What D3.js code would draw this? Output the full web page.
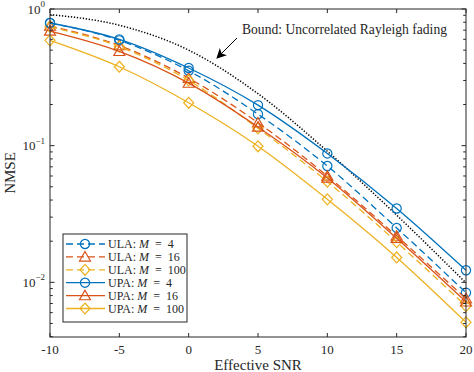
<!DOCTYPE html>
<html>
<head>
<meta charset="utf-8">
<script src="https://cdnjs.cloudflare.com/ajax/libs/d3/7.8.5/d3.min.js"></script>
<style>
  body { margin: 0; background: #fff; }
  text { font-family: "Liberation Serif", "DejaVu Serif", serif; fill: #262626; }
</style>
</head>
<body>
<svg width="474" height="372"></svg>
<script>
// values
var snr = [-10, -5, 0, 5, 10, 15, 20];
var bound  = [0.91, 0.76, 0.50, 0.24, 0.091, 0.031, 0.0099];
var ula4   = [0.79, 0.59, 0.353, 0.170, 0.071, 0.025, 0.0084];
var ula16  = [0.75, 0.54, 0.312, 0.147, 0.060, 0.0218, 0.0076];
var ula100 = [0.74, 0.53, 0.300, 0.134, 0.0545, 0.0197, 0.0067];
var upa4   = [0.79, 0.60, 0.370, 0.198, 0.0877, 0.0347, 0.01225];
var upa16  = [0.69, 0.49, 0.287, 0.137, 0.058, 0.021, 0.0072];
var upa100 = [0.59, 0.378, 0.206, 0.099, 0.0405, 0.0152, 0.0051];
var xTicks = [-10, -5, 0, 5, 10, 15, 20];
var yTicks = [1, 0.1, 0.01];
var yExp = ["0", "\u22121", "\u22122"];

var blue = "#0072BD", red = "#D95319", yellow = "#EDB120";
var series = [
  {name: "ULA", m: "4",   vals: ula4,   color: blue,   dash: "7,4", marker: "circle"},
  {name: "ULA", m: "16",  vals: ula16,  color: red,    dash: "7,4", marker: "triangle"},
  {name: "ULA", m: "100", vals: ula100, color: yellow, dash: "7,4", marker: "diamond"},
  {name: "UPA", m: "4",   vals: upa4,   color: blue,   dash: null,  marker: "circle"},
  {name: "UPA", m: "16",  vals: upa16,  color: red,    dash: null,  marker: "triangle"},
  {name: "UPA", m: "100", vals: upa100, color: yellow, dash: null,  marker: "diamond"}
];

var svg = d3.select("svg");
var L = 50, R = 466, T = 9, B = 337;

var x = d3.scaleLinear().domain([-10, 20]).range([L, R]);
var y = d3.scaleLog().domain([Math.pow(10, -2.4), 1]).range([B, T]);

var line = d3.line()
    .x(function(d) { return x(d[0]); })
    .y(function(d) { return y(d[1]); })
    .curve(d3.curveMonotoneX);

function pts(vals) { return snr.map(function(s, i) { return [s, vals[i]]; }); }

var symbols = {
  circle: d3.symbol().type(d3.symbolCircle).size(66),
  triangle: d3.symbol().type(d3.symbolTriangle).size(52),
  diamond: d3.symbol().type(d3.symbolDiamond).size(48)
};
function markTf(kind, px, py) {
  if (kind === "triangle") return "translate(" + px + "," + (py + 1) + ")";
  if (kind === "diamond") return "translate(" + px + "," + py + ") scale(1.35,0.85)";
  return "translate(" + px + "," + py + ")";
}

// bound curve
svg.append("path")
    .attr("d", line(pts(bound)))
    .attr("fill", "none")
    .attr("stroke", "#000")
    .attr("stroke-width", 1.5)
    .attr("stroke-dasharray", "1.3,1.7");

series.forEach(function(s) {
  svg.append("path")
      .attr("d", line(pts(s.vals)))
      .attr("fill", "none")
      .attr("stroke", s.color)
      .attr("stroke-width", 1.3)
      .attr("stroke-dasharray", s.dash);
  svg.selectAll(null).data(pts(s.vals)).enter().append("path")
      .attr("d", symbols[s.marker])
      .attr("transform", function(d) { return markTf(s.marker, x(d[0]), y(d[1])); })
      .attr("fill", "none")
      .attr("stroke", s.color)
      .attr("stroke-width", 1.2)
      .attr("vector-effect", "non-scaling-stroke");
});

// frame
var ax = svg.append("g").attr("stroke", "#262626").attr("stroke-width", 1).attr("fill", "none");
ax.append("rect").attr("x", L).attr("y", T).attr("width", R - L).attr("height", B - T);

xTicks.forEach(function(t) {
  ax.append("line").attr("x1", x(t)).attr("x2", x(t)).attr("y1", B).attr("y2", B - 4);
  ax.append("line").attr("x1", x(t)).attr("x2", x(t)).attr("y1", T).attr("y2", T + 4);
  svg.append("text").attr("x", x(t)).attr("y", B + 17)
      .attr("text-anchor", "middle").attr("font-size", 13).text(t);
});

y.ticks().forEach(function(t) {
  var major = Math.abs(Math.log10(t) - Math.round(Math.log10(t))) < 1e-9;
  var len = major ? 4.5 : 2.8;
  ax.append("line").attr("x1", L).attr("x2", L + len).attr("y1", y(t)).attr("y2", y(t));
  ax.append("line").attr("x1", R).attr("x2", R - len).attr("y1", y(t)).attr("y2", y(t));
});

yTicks.forEach(function(t, i) {
  var tx = svg.append("text").attr("x", 45).attr("y", y(t) + 4.5)
      .attr("text-anchor", "end").attr("font-size", 13);
  tx.append("tspan").text("10");
  tx.append("tspan").attr("dy", -6.5).attr("font-size", 9).text(yExp[i]);
});

svg.append("text").attr("x", (L + R) / 2).attr("y", 370)
    .attr("text-anchor", "middle").attr("font-size", 15).text("Effective SNR");
svg.append("text").attr("transform", "translate(15," + ((T + B) / 2) + ") rotate(-90)")
    .attr("text-anchor", "middle").attr("font-size", 15).text("NMSE");

// annotation
svg.append("defs").append("marker")
    .attr("id", "ah").attr("viewBox", "0 0 10 10").attr("refX", 9).attr("refY", 5)
    .attr("markerWidth", 10).attr("markerHeight", 10).attr("orient", "auto")
    .attr("markerUnits", "userSpaceOnUse")
  .append("path").attr("d", "M0,0 L10,5 L0,10 L2.5,5 Z").attr("fill", "#000");
svg.append("line").attr("x1", 237).attr("y1", 38).attr("x2", 217).attr("y2", 58)
    .attr("stroke", "#000").attr("stroke-width", 1).attr("marker-end", "url(#ah)");
svg.append("text").attr("x", 242).attr("y", 34).attr("font-size", 13.6)
    .text("Bound: Uncorrelated Rayleigh fading");

// legend
var lg = svg.append("g");
lg.append("rect").attr("x", 63).attr("y", 234).attr("width", 124).attr("height", 88)
    .attr("fill", "#fff").attr("stroke", "#262626").attr("stroke-width", 1);
series.forEach(function(s, i) {
  var ry = 244 + i * 12.9;
  lg.append("line").attr("x1", 66).attr("x2", 105).attr("y1", ry).attr("y2", ry)
      .attr("stroke", s.color).attr("stroke-width", 1.3).attr("stroke-dasharray", s.dash);
  lg.append("path").attr("d", symbols[s.marker])
      .attr("transform", markTf(s.marker, 85, ry))
      .attr("fill", "none").attr("stroke", s.color).attr("stroke-width", 1.2)
      .attr("vector-effect", "non-scaling-stroke");
  var t = lg.append("text").attr("x", 108).attr("y", ry + 4).attr("font-size", 12);
  t.append("tspan").text(s.name + ": ");
  t.append("tspan").attr("font-style", "italic").text("M");
  t.append("tspan").text("\u2002=\u2002" + s.m);
});
</script>
</body>
</html>
